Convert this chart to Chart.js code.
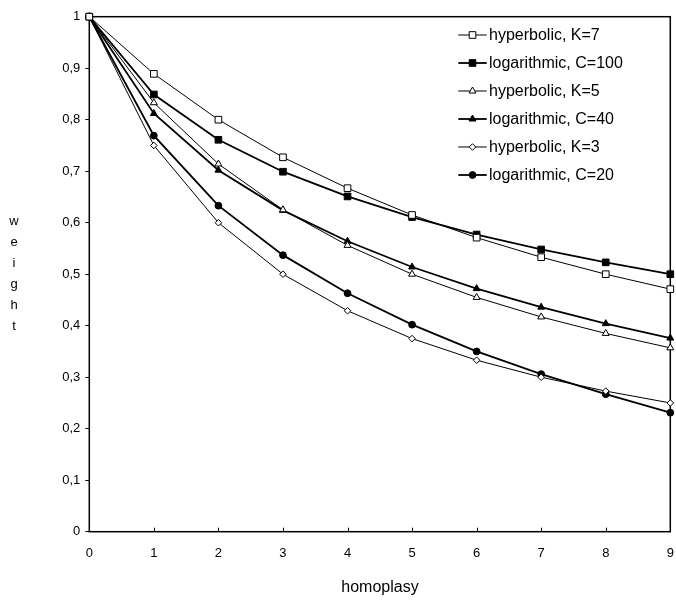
<!DOCTYPE html>
<html>
<head>
<meta charset="utf-8">
<script src="https://cdn.jsdelivr.net/npm/chart.js@4/dist/chart.umd.min.js"></script>
<style>
  html, body { margin: 0; padding: 0; background: #fff; }
  canvas { display: block; }
</style>
</head>
<body>
<canvas id="c" width="676" height="600"></canvas>
<script>
// ---- data ----
const homoplasy = [0, 1, 2, 3, 4, 5, 6, 7, 8, 9];
const hyperbolicK7 = [1, 0.889, 0.800, 0.727, 0.667, 0.615, 0.571, 0.533, 0.500, 0.471];
const logarithmicC100 = [1, 0.849, 0.761, 0.699, 0.651, 0.611, 0.577, 0.548, 0.523, 0.500];
const hyperbolicK5 = [1, 0.833, 0.714, 0.625, 0.556, 0.500, 0.455, 0.417, 0.385, 0.357];
const logarithmicC40 = [1, 0.812, 0.702, 0.624, 0.564, 0.514, 0.472, 0.436, 0.404, 0.376];
const hyperbolicK3 = [1, 0.750, 0.600, 0.500, 0.429, 0.375, 0.333, 0.300, 0.273, 0.250];
const logarithmicC20 = [1, 0.769, 0.633, 0.537, 0.463, 0.402, 0.350, 0.306, 0.267, 0.231];
const seriesLabels = ['hyperbolic, K=7', 'logarithmic, C=100', 'hyperbolic, K=5',
                      'logarithmic, C=40', 'hyperbolic, K=3', 'logarithmic, C=20'];
const xTickLabels = ['0', '1', '2', '3', '4', '5', '6', '7', '8', '9'];
const yTickLabels = ['0', '0,1', '0,2', '0,3', '0,4', '0,5', '0,6', '0,7', '0,8', '0,9', '1'];
const xTitle = 'homoplasy';
const yTitle = 'weight';

const FONT = "'Liberation Sans', Arial, sans-serif";

function pts(arr) { return homoplasy.map((x, i) => ({ x: x, y: arr[i] })); }

function makeSet(label, arr, style, filled, lw, r) {
  return {
    label: label,
    data: pts(arr),
    borderColor: '#000',
    borderWidth: lw,
    pointStyle: style,
    pointRadius: r,
    pointHoverRadius: r,
    pointBorderWidth: 1,
    pointBorderColor: '#000',
    pointBackgroundColor: filled ? '#000' : '#fff',
    tension: 0,
    fill: false,
    clip: false
  };
}

const datasets = [
  makeSet(seriesLabels[0], hyperbolicK7, 'rect', false, 1, 4.7),
  makeSet(seriesLabels[1], logarithmicC100, 'rect', true, 1.8, 4.7),
  makeSet(seriesLabels[2], hyperbolicK5, 'triangle', false, 1, 4),
  makeSet(seriesLabels[3], logarithmicC40, 'triangle', true, 1.8, 4),
  makeSet(seriesLabels[4], hyperbolicK3, 'rectRot', false, 1, 3.3),
  makeSet(seriesLabels[5], logarithmicC20, 'circle', true, 1.8, 3.4)
];

function marker(ctx, ds, x, y) {
  ctx.save();
  ctx.fillStyle = ds.pointBackgroundColor;
  ctx.strokeStyle = ds.pointBorderColor;
  ctx.lineWidth = ds.pointBorderWidth;
  Chart.helpers.drawPoint(ctx, { pointStyle: ds.pointStyle, rotation: 0, radius: ds.pointRadius, borderWidth: ds.pointBorderWidth }, x, y);
  ctx.restore();
}

const framePlugin = {
  id: 'frame',
  beforeDatasetsDraw(chart) {
    const a = chart.chartArea, ctx = chart.ctx;
    ctx.save();
    ctx.strokeStyle = '#000';
    ctx.lineWidth = 1.5;
    ctx.strokeRect(a.left, a.top, a.right - a.left, a.bottom - a.top);
    // inward x tick marks
    const xs = chart.scales.x;
    ctx.lineWidth = 1;
    homoplasy.forEach(v => {
      const px = Math.round(xs.getPixelForValue(v)) + 0.5;
      ctx.beginPath();
      ctx.moveTo(px, a.bottom);
      ctx.lineTo(px, a.bottom - 4);
      ctx.stroke();
    });
    ctx.restore();
  },
  afterDraw(chart) {
    const ctx = chart.ctx;
    ctx.save();
    // legend
    chart.data.datasets.forEach((ds, i) => {
      const y = 35 + 28 * i;
      ctx.strokeStyle = '#000';
      ctx.lineWidth = ds.borderWidth;
      ctx.beginPath();
      ctx.moveTo(458.3, y);
      ctx.lineTo(486.7, y);
      ctx.stroke();
      marker(ctx, ds, 472.5, y);
      ctx.fillStyle = '#000';
      ctx.font = '16px ' + FONT;
      ctx.textAlign = 'left';
      ctx.textBaseline = 'middle';
      ctx.fillText(ds.label, 489, y + 0.5);
    });
    // axis titles
    ctx.fillStyle = '#000';
    ctx.font = '16px ' + FONT;
    ctx.textAlign = 'center';
    ctx.textBaseline = 'alphabetic';
    ctx.fillText(xTitle, 380, 592);
    ctx.font = '13px ' + FONT;
    yTitle.split('').forEach((ch, i) => {
      ctx.fillText(ch, 14, 225 + 21 * i);
    });
    ctx.restore();
  }
};

new Chart(document.getElementById('c'), {
  type: 'line',
  data: { datasets: datasets },
  options: {
    responsive: false,
    animation: false,
    events: [],
    layout: { padding: { top: 16.7, right: 5.5, left: 0, bottom: 0 } },
    plugins: { legend: { display: false }, tooltip: { enabled: false } },
    scales: {
      x: {
        type: 'linear',
        min: 0, max: 9,
        afterFit(s) { s.height = 600 - 531.7 - 16.7 + 16.7; s.paddingLeft = 0; s.paddingRight = 0; },
        afterBuildTicks(s) { s.ticks = homoplasy.map(v => ({ value: v })); },
        border: { display: false },
        grid: { display: true, drawOnChartArea: false, drawTicks: false, color: '#000' },
        ticks: {
          padding: 14,
          maxRotation: 0,
          autoSkip: false,
          color: '#000',
          font: { family: FONT, size: 13 },
          callback: (v, i) => xTickLabels[i]
        }
      },
      y: {
        type: 'linear',
        min: 0, max: 1,
        afterFit(s) { s.width = 89.3; s.paddingTop = 0; s.paddingBottom = 0; },
        afterBuildTicks(s) { s.ticks = yTickLabels.map((t, i) => ({ value: i / 10 })); },
        border: { display: false },
        grid: { display: true, drawOnChartArea: false, drawTicks: true, tickLength: 4, color: '#000', lineWidth: 1 },
        ticks: {
          padding: 5,
          autoSkip: false,
          color: '#000',
          font: { family: FONT, size: 13 },
          callback: (v, i) => yTickLabels[i]
        }
      }
    }
  },
  plugins: [framePlugin]
});
</script>
</body>
</html>
